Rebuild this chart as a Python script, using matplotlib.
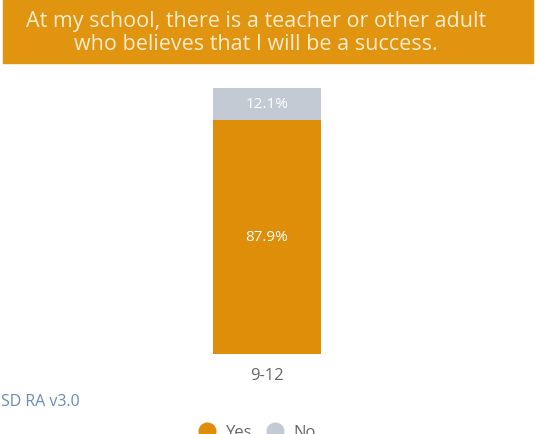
import matplotlib.pyplot as plt
from matplotlib.patches import Rectangle
from matplotlib.lines import Line2D

plt.rcParams['font.family'] = ['Open Sans', 'DejaVu Sans']

# data
categories = ['9-12']
yes = [87.9]
no = [12.1]
series_names = ['Yes', 'No']
title = 'At my school, there is a teacher or other adult\nwho believes that I will be a success.'
footnote = 'SD RA v3.0'

orange = '#DF8E0A'
grey = '#C3CAD4'

W, H = 539, 434
fig = plt.figure(figsize=(W / 100, H / 100), dpi=100)

# title banner
fig.patches.append(Rectangle((3 / W, 1 - 63 / H), 530 / W, 63 / H,
                             transform=fig.transFigure, color='#E0940F', zorder=0))
fig.text(0.475, 1 - 33 / H, title, ha='center', va='center', color='#FCEBCB',
         fontsize=15.5, linespacing=1.15)

# bar
ax = fig.add_axes([213 / W, (H - 354) / H, 108 / W, (354 - 88) / H])
ax.bar(categories, yes, width=1, color=orange)
ax.bar(categories, no, bottom=yes, width=1, color=grey)
ax.set_xlim(-0.5, 0.5)
ax.set_ylim(0, 100)
for i, c in enumerate(categories):
    ax.text(i, yes[i] / 2, f'{yes[i]}%', ha='center', va='center', color='white', fontsize=11)
    ax.text(i, yes[i] + no[i] / 2, f'{no[i]}%', ha='center', va='center', color='white', fontsize=11)
for s in ax.spines.values():
    s.set_visible(False)
ax.set_yticks([])
ax.tick_params(axis='x', length=0, pad=10, labelsize=12, labelcolor='#666666')

fig.text(1 / W, 1 - 402 / H, footnote, ha='left', va='center', color='#6A8BB8', fontsize=11.5)

handles = [Line2D([], [], marker='o', ls='', color=orange, markersize=12),
           Line2D([], [], marker='o', ls='', color=grey, markersize=12)]
fig.legend(handles, series_names, loc='center', bbox_to_anchor=(0.47, 1 - 433 / H),
           ncol=2, frameon=False, fontsize=12, labelcolor='#666666',
           handletextpad=0.1, columnspacing=0.4)

fig.savefig('out.png', dpi=100)
